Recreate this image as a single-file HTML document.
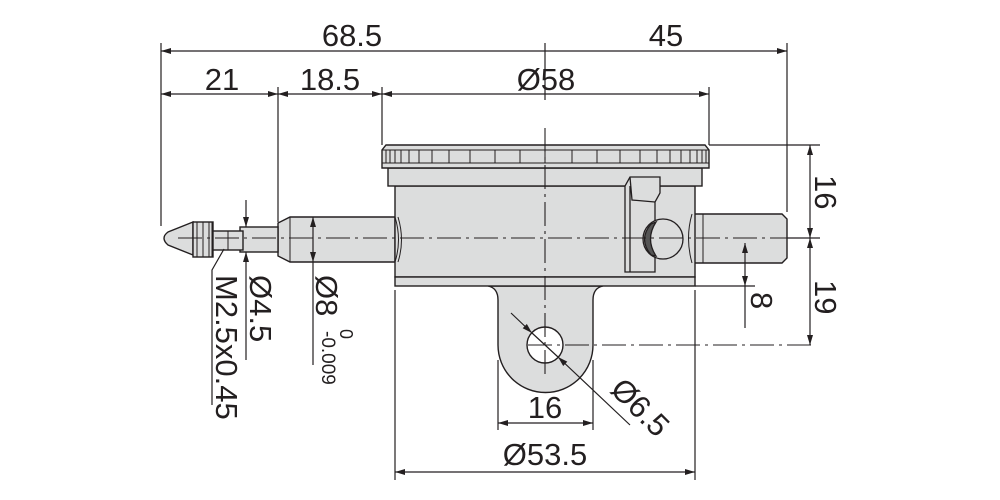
<!DOCTYPE html>
<html><head><style>html,body{margin:0;padding:0;background:#fff}svg{display:block}</style></head>
<body>
<svg width="1000" height="500" viewBox="0 0 1000 500" xmlns="http://www.w3.org/2000/svg" font-family="Liberation Sans, sans-serif" fill="none" stroke="#231f20">
<defs>
<marker id="a" viewBox="0 0 10 6" refX="10" refY="3" markerWidth="10" markerHeight="6" markerUnits="userSpaceOnUse" orient="auto-start-reverse"><path d="M0,0 L10,3 L0,6z" fill="#231f20" stroke="none"/></marker>
</defs>
<g stroke-width="1.2">
<line x1="161" y1="43" x2="161" y2="226"/>
<line x1="278" y1="87" x2="278" y2="222"/>
<line x1="382" y1="87" x2="382" y2="145"/>
<line x1="709" y1="87" x2="709" y2="145"/>
<line x1="787" y1="43" x2="787" y2="212"/>
<line x1="545" y1="43" x2="545" y2="100"/>
<line x1="161" y1="51" x2="545" y2="51" marker-start="url(#a)"/>
<line x1="545" y1="51" x2="787" y2="51" marker-end="url(#a)"/>
<line x1="161" y1="94" x2="278" y2="94" marker-start="url(#a)" marker-end="url(#a)"/>
<line x1="278" y1="94" x2="382" y2="94" marker-start="url(#a)" marker-end="url(#a)"/>
<line x1="382" y1="94" x2="709" y2="94" marker-start="url(#a)" marker-end="url(#a)"/>
</g>
<g stroke-width="1.4" fill="#dcdddd">
<path d="M290,217 L395,217 L395,262 L290,262 L278,256 L278,223 Z"/>
<rect x="240" y="227" width="38" height="25"/>
<path d="M193,222 L168,232 Q160,238 168,245 L193,255 Z"/>
<rect x="193" y="222" width="20" height="35"/>
<rect x="213" y="231" width="30" height="19"/>
<path d="M692,214 L782,214 L787,219 L787,258 L782,263 L692,263 Z"/>
<path d="M488,286 Q498,288 498,300 L498,345 A47.5,47.5 0 0 0 593,345 L593,300 Q593,288 603,286 Z"/>
<rect x="395" y="186" width="300" height="91"/>
<rect x="395" y="277" width="300" height="9"/>
<rect x="388" y="168" width="314" height="18"/>
<path d="M382,168 L382,150 L386,145 L705,145 L709,150 L709,168 Z"/>
</g>
<g stroke-width="1">
<line x1="382" y1="163" x2="709" y2="163"/>
<line x1="382" y1="150" x2="709" y2="150"/>
<path d="M386,150v13M390,150v13M395,150v13M401,150v13M409,150v13M419,150v13M432,150v13M449,150v13M470,150v13M495,150v13M520,150v13M545,150v13M572,150v13M597,150v13M620,150v13M640,150v13M657,150v13M670,150v13M681,150v13M690,150v13M697,150v13M702,150v13M706,150v13"/>
<path d="M197,222v35M203,222v35M209,222v35M212,222v35"/>
<path d="M228,231v19M290,217v45M703,214v49"/>
<path d="M398,217 Q405,240 398,262 M395,217 Q402,240 395,262" />
<path d="M692,214 Q685,238 692,263"/>
</g>
<g stroke-width="1.3">
<path d="M625,272 L625,186 L630,177 L660,177 L660,193 L655,202 L655,272 Z" fill="#dcdddd"/>
<path d="M630,177 L632,200 L655,202 M630,186 L630,272"/>
<circle cx="663" cy="239" r="20" fill="#dcdddd"/>
<path d="M651,224 Q638,239 651,255 L656,256 Q645,239 656,222 Z" fill="#555"/>
</g>
<circle cx="545" cy="345" r="18" fill="#fff" stroke-width="1.4"/>
<g stroke-width="1.1" stroke-dasharray="24,5,3,5">
<line x1="178" y1="238" x2="810" y2="238"/>
<line x1="545" y1="128" x2="545" y2="375"/>
<line x1="528" y1="345" x2="815" y2="345"/>
</g>
<g stroke-width="1.2">
<line x1="709" y1="145" x2="820" y2="145"/>
<line x1="787" y1="238" x2="820" y2="238"/>
<line x1="695" y1="286" x2="755" y2="286"/>
<line x1="810" y1="145" x2="810" y2="238" marker-start="url(#a)" marker-end="url(#a)"/>
<line x1="810" y1="238" x2="810" y2="345" marker-start="url(#a)" marker-end="url(#a)"/>
<line x1="745" y1="243" x2="745" y2="286" marker-start="url(#a)" marker-end="url(#a)"/>
<line x1="745" y1="286" x2="745" y2="328"/>
<line x1="246" y1="200" x2="246" y2="227" marker-end="url(#a)"/>
<line x1="246" y1="360" x2="246" y2="252" marker-end="url(#a)"/>
<line x1="313" y1="217" x2="313" y2="262" marker-start="url(#a)" marker-end="url(#a)"/>
<line x1="313" y1="262" x2="313" y2="365"/>
<path d="M224,249 L212,270 L212,405"/>
<line x1="395" y1="290" x2="395" y2="480"/>
<line x1="695" y1="290" x2="695" y2="480"/>
<line x1="498" y1="360" x2="498" y2="430"/>
<line x1="593" y1="360" x2="593" y2="430"/>
<line x1="498" y1="423" x2="593" y2="423" marker-start="url(#a)" marker-end="url(#a)"/>
<line x1="395" y1="472" x2="695" y2="472" marker-start="url(#a)" marker-end="url(#a)"/>
<line x1="511" y1="313" x2="532" y2="333" marker-end="url(#a)"/>
<line x1="630" y1="425" x2="558" y2="357" marker-end="url(#a)"/>
<line x1="532" y1="333" x2="558" y2="357"/>
</g>
<g fill="#231f20" stroke="none" font-size="31">
<text x="352" y="46" text-anchor="middle">68.5</text>
<text x="666" y="46" text-anchor="middle">45</text>
<text x="222" y="90" text-anchor="middle">21</text>
<text x="330" y="90" text-anchor="middle">18.5</text>
<text x="546" y="90" text-anchor="middle">Ø58</text>
<text x="545" y="418" text-anchor="middle">16</text>
<text x="545" y="465" text-anchor="middle">Ø53.5</text>
<text transform="translate(609,391) rotate(45)">Ø6.5</text>
<text transform="translate(815,175) rotate(90)">16</text>
<text transform="translate(815,280) rotate(90)">19</text>
<text transform="translate(751,292) rotate(90)">8</text>
<text transform="translate(250,275) rotate(90)">Ø4.5</text>
<text transform="translate(216,275) rotate(90)">M2.5x0.45</text>
<text transform="translate(316,275) rotate(90)">Ø8</text>
<text transform="translate(322,331) rotate(90)" font-size="19">-0.009</text>
<text transform="translate(340,329) rotate(90)" font-size="18">0</text>
</g>
</svg>
</body></html>
